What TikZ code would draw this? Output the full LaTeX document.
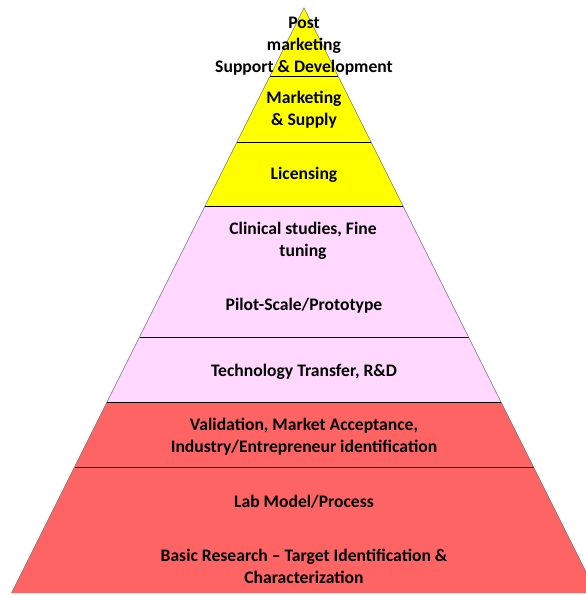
\documentclass[tikz,border=0pt]{standalone}
\usepackage{fontspec}
\setmainfont{Carlito}
\definecolor{pyyellow}{HTML}{FFFF00}
\definecolor{pypink}{HTML}{FFD7FF}
\definecolor{pyred}{HTML}{FF6464}
\begin{document}
\begin{tikzpicture}[x=1pt,y=-1pt,
  lbl/.style={font=\bfseries\fontsize{17.6}{22}\selectfont, align=center, text=black, inner sep=0pt, anchor=center},
  sep/.style={draw=black, line width=0.8pt},
  edge/.style={draw=black!55, line width=0.6pt}]
\useasboundingbox (0,0) rectangle (586,595);
\begin{scope}
\clip (0,0) rectangle (586,595);
% bands
\fill[pyyellow] (304,8) -- (403,206) -- (205,206) -- cycle;
\fill[pypink] (205,206) -- (403,206) -- (501,402) -- (107,402) -- cycle;
\fill[pyred] (107,402) -- (501,402) -- (596.5,593) -- (11.5,593) -- cycle;
% separators
\draw[sep] (270,76) -- (338,76);
\draw[sep] (237,142) -- (371,142);
\draw[sep] (205,206) -- (403,206);
\draw[sep] (139.5,337) -- (468.5,337);
\draw[sep] (107,402) -- (501,402);
\draw[sep] (74.5,467) -- (533.5,467);
% outer edges
\draw[edge] (11.5,593) -- (304,8) -- (596.5,593);
\end{scope}
% labels
\node[lbl] (post) at (304,46) {Post\\marketing\\Support \& Development};
\node[lbl] (mkt) at (304,110) {Marketing\\\& Supply};
\node[lbl] (lic) at (304,175) {Licensing};
\node[lbl] (clin) at (303,241) {Clinical studies, Fine\\tuning};
\node[lbl] (pilot) at (304,306) {Pilot-Scale/Prototype};
\node[lbl] (tech) at (304,372) {Technology Transfer, R\&D};
\node[lbl] (valid) at (304,437) {Validation, Market Acceptance,\\Industry/Entrepreneur identification};
\node[lbl] (lab) at (304,502) {Lab Model/Process};
\node[lbl] (basic) at (304,566) {Basic Research -- Target Identification \&\\Characterization};
\end{tikzpicture}
\end{document}
